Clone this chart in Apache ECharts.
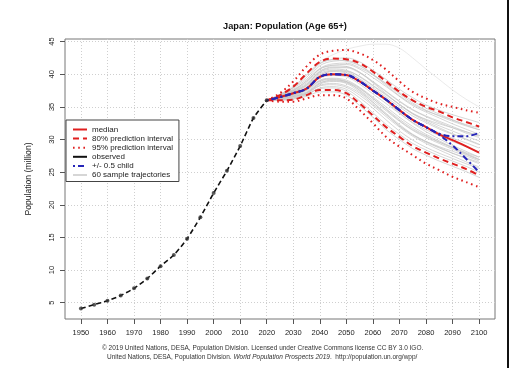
<!DOCTYPE html>
<html>
<head>
<meta charset="utf-8">
<script src="https://cdn.jsdelivr.net/npm/echarts@6/dist/echarts.min.js"></script>
<style>
  html, body { margin: 0; padding: 0; background: #fff; }
  #main { width: 525px; height: 377px; }
</style>
</head>
<body>
<div id="main"></div>
<script>
// observed, 1950-2020
let obsYears = [1950, 1955, 1960, 1965, 1970, 1975, 1980, 1985, 1990, 1995, 2000, 2005, 2010, 2015, 2020];
let obsValues = [4.1, 4.7, 5.3, 6.1, 7.2, 8.7, 10.6, 12.3, 14.8, 18.1, 21.8, 25.2, 29.0, 33.3, 36.0];

// projections, 2020-2100
let projYears = [2020, 2025, 2030, 2035, 2040, 2045, 2050, 2055, 2060, 2065, 2070, 2075, 2080, 2085, 2090, 2095, 2100];
let median = [36.0, 36.5, 37.1, 37.8, 39.6, 40.0, 39.9, 38.9, 37.5, 36.1, 34.5, 33.0, 31.9, 30.8, 29.9, 29.0, 28.0];
let hi80 = [36.0, 36.8, 38.1, 40.1, 41.9, 42.4, 42.3, 41.7, 40.4, 38.9, 37.3, 36.0, 35.0, 34.3, 33.4, 32.7, 32.0];
let lo80 = [36.0, 36.0, 36.1, 36.8, 37.6, 37.6, 37.1, 35.5, 33.7, 31.9, 30.4, 29.0, 28.0, 27.1, 26.3, 25.5, 24.5];
let hi95 = [36.0, 37.1, 38.9, 41.2, 43.0, 43.6, 43.7, 43.2, 42.2, 40.7, 38.9, 37.3, 36.3, 35.5, 35.0, 34.5, 34.1];
let lo95 = [36.0, 35.8, 35.8, 36.3, 36.8, 36.8, 36.3, 34.5, 32.5, 30.4, 28.9, 27.6, 26.3, 25.3, 24.3, 23.5, 22.7];
let childHi = [36.0, 36.5, 37.1, 37.8, 39.6, 40.0, 39.9, 38.9, 37.5, 36.1, 34.5, 33.0, 31.9, 30.9, 30.5, 30.5, 31.0];
let childLo = [36.0, 36.5, 37.1, 37.8, 39.6, 40.0, 39.9, 38.9, 37.5, 36.1, 34.5, 33.0, 31.9, 30.7, 29.1, 27.1, 25.0];

// sample trajectories (a readable subset of the grey cloud)
let trajectories = [
  [36.0, 36.6, 37.4, 38.4, 40.4, 41.0, 41.0, 40.2, 38.8, 37.3, 35.8, 34.5, 33.5, 32.6, 31.8, 31.0, 30.3],
  [36.0, 36.3, 36.8, 37.3, 38.7, 39.0, 38.7, 37.6, 36.0, 34.4, 32.8, 31.4, 30.3, 29.4, 28.5, 27.7, 26.9],
  [36.0, 36.8, 37.9, 39.2, 41.3, 42.0, 42.1, 41.4, 40.0, 38.5, 37.0, 35.6, 34.5, 33.6, 32.8, 32.1, 31.5],
  [36.0, 36.4, 36.9, 37.6, 39.1, 39.4, 39.1, 38.0, 36.5, 35.0, 33.4, 32.0, 30.8, 29.8, 28.8, 27.9, 27.0],
  [36.0, 36.5, 37.2, 38.0, 39.9, 40.4, 40.2, 39.3, 37.9, 36.5, 35.0, 33.6, 32.6, 31.6, 30.8, 30.0, 29.2],
  [36.0, 36.2, 36.5, 37.0, 38.2, 38.4, 38.0, 36.8, 35.2, 33.5, 31.9, 30.5, 29.4, 28.4, 27.5, 26.6, 25.8],
  [36.0, 36.7, 37.6, 38.7, 40.8, 41.4, 41.5, 40.8, 39.5, 38.1, 36.6, 35.2, 34.2, 33.3, 32.4, 31.6, 30.8],
  [36.0, 36.5, 37.0, 37.7, 39.4, 39.8, 39.6, 38.5, 37.0, 35.5, 34.0, 32.6, 31.5, 30.6, 29.7, 28.9, 28.1],
  [36.0, 36.3, 36.7, 37.2, 38.5, 38.9, 38.6, 37.3, 35.7, 34.0, 32.3, 30.8, 29.7, 28.8, 27.9, 27.1, 26.3],
  [36.0, 36.6, 37.3, 38.2, 40.1, 40.6, 40.5, 39.6, 38.2, 36.8, 35.4, 34.0, 33.0, 32.1, 31.3, 30.5, 29.8],
  [36.0, 36.9, 38.0, 39.5, 41.6, 42.3, 42.5, 41.9, 40.6, 39.2, 37.7, 36.4, 35.3, 34.5, 33.8, 33.2, 32.6],
  [36.0, 36.4, 36.9, 37.5, 38.9, 39.2, 38.8, 37.8, 36.3, 34.7, 33.1, 31.7, 30.6, 29.6, 28.7, 27.8, 26.9],
  [36.0, 36.5, 37.1, 37.9, 39.7, 40.1, 39.9, 38.9, 37.4, 35.9, 34.3, 32.9, 31.9, 31.0, 30.2, 29.5, 28.7],
  [36.0, 36.2, 36.6, 37.1, 38.3, 38.6, 38.2, 37.1, 35.4, 33.8, 32.1, 30.7, 29.6, 28.7, 27.9, 27.2, 26.5],
  [36.0, 36.9, 38.2, 39.8, 41.9, 43.0, 43.8, 44.3, 44.6, 44.6, 44.0, 42.5, 40.8, 39.2, 37.6, 36.2, 35.0],
  [36.0, 36.6, 37.3, 38.3, 40.3, 40.8, 40.6, 39.7, 38.3, 36.9, 35.3, 33.9, 32.8, 31.8, 30.9, 30.1, 29.3],
  [36.0, 36.1, 36.4, 36.8, 37.9, 38.1, 37.7, 36.4, 34.8, 33.0, 31.3, 29.9, 28.8, 27.9, 27.1, 26.3, 25.6],
  [36.0, 36.7, 37.5, 38.5, 40.5, 41.1, 41.1, 40.3, 38.9, 37.4, 35.9, 34.6, 33.6, 32.8, 32.0, 31.2, 30.5],
  [36.0, 36.4, 37.0, 37.9, 39.8, 40.5, 40.4, 39.2, 37.6, 35.9, 34.1, 32.5, 31.2, 30.1, 29.1, 28.2, 27.3],
  [36.0, 36.7, 37.7, 38.9, 40.9, 41.6, 41.7, 41.0, 39.9, 38.6, 37.2, 35.9, 34.8, 33.9, 33.0, 32.2, 31.5],
  [36.0, 36.3, 36.6, 37.1, 38.6, 39.1, 38.9, 37.9, 36.3, 34.6, 32.9, 31.5, 30.5, 29.6, 28.8, 28.0, 27.3],
  [36.0, 36.1, 36.3, 36.9, 37.8, 37.9, 37.4, 35.9, 34.1, 32.3, 30.8, 29.4, 28.4, 27.5, 26.7, 25.9, 25.0],
  [36.0, 36.8, 38.0, 39.9, 41.7, 42.2, 42.0, 41.3, 39.9, 38.3, 36.7, 35.4, 34.4, 33.7, 33.0, 32.3, 31.8],
  [36.0, 36.0, 36.2, 36.6, 37.3, 37.3, 36.8, 35.2, 33.4, 31.5, 30.0, 28.6, 27.6, 26.7, 25.9, 25.1, 24.2],
  [36.0, 36.6, 37.5, 39.0, 40.8, 41.3, 41.2, 40.3, 38.7, 37.0, 35.4, 34.0, 33.1, 32.4, 31.8, 31.2, 30.6],
  [36.0, 36.4, 36.8, 37.6, 39.0, 39.3, 38.9, 37.5, 35.7, 33.8, 32.1, 30.7, 29.7, 28.9, 28.2, 27.5, 26.7]
];

let xTicks = [1950, 1960, 1970, 1980, 1990, 2000, 2010, 2020, 2030, 2040, 2050, 2060, 2070, 2080, 2090, 2100];
let yTicks = [5, 10, 15, 20, 25, 30, 35, 40, 45];

let font = 'Liberation Sans, Arial, sans-serif';
let red = '#e01f1f';
let blue = '#2626b8';

function pairs(xs, ys) {
  return xs.map((x, i) => [x, ys[i]]);
}

let chart = echarts.init(document.getElementById('main'), null, { renderer: 'canvas' });

let series = [];

// grey cloud
trajectories.forEach((t, k) => {
  series.push({
    name: '60 sample trajectories',
    type: 'line',
    data: pairs(projYears, t),
    symbol: 'none',
    smooth: 0.35,
    silent: true,
    lineStyle: { color: '#c4c4c4', width: 1, opacity: k === 14 ? 0.35 : 0.7 },
    itemStyle: { color: '#c4c4c4' },
    z: 1
  });
});

function band(name, ys, dash) {
  return {
    name: name,
    type: 'line',
    data: pairs(projYears, ys),
    symbol: 'none',
    smooth: 0.35,
    lineStyle: { color: red, width: 2, type: dash },
    itemStyle: { color: red },
    z: 3
  };
}
series.push(band('95% prediction interval', hi95, [1.6, 3.6]));
series.push(band('95% prediction interval', lo95, [1.6, 3.6]));
series.push(band('80% prediction interval', hi80, [6, 4]));
series.push(band('80% prediction interval', lo80, [6, 4]));

series.push({
  name: 'median',
  type: 'line',
  data: pairs(projYears, median),
  symbol: 'none',
  smooth: 0.35,
  lineStyle: { color: red, width: 2 },
  itemStyle: { color: red },
  z: 4
});

[childHi, childLo].forEach(c => {
  series.push({
    name: '+/- 0.5 child',
    type: 'line',
    data: pairs(projYears, c),
    symbol: 'none',
    smooth: 0.35,
    lineStyle: { color: blue, width: 2, type: [2, 3, 6, 3] },
    itemStyle: { color: blue },
    z: 5
  });
});

series.push({
  name: 'observed',
  type: 'line',
  data: pairs(obsYears, obsValues),
  symbol: 'none',
  smooth: 0.2,
  lineStyle: { color: '#111', width: 1.6, type: [5, 3] },
  itemStyle: { color: '#111' },
  z: 6
});
series.push({
  name: 'observed points',
  type: 'scatter',
  data: pairs(obsYears, obsValues),
  symbol: 'circle',
  symbolSize: 4,
  itemStyle: { color: '#333' },
  z: 7
});

let option = {
  animation: false,
  backgroundColor: '#fff',
  title: {
    text: 'Japan: Population (Age 65+)',
    left: 280,
    top: 17,
    textAlign: 'center',
    textStyle: { fontFamily: font, fontSize: 9.2, fontWeight: 'bold', color: '#111' }
  },
  grid: {
    left: 65, right: 30, top: 39, bottom: 58,
    show: true,
    borderColor: '#777',
    borderWidth: 1
  },
  legend: {
    orient: 'vertical',
    left: 66,
    top: 120,
    padding: [5, 6, 2, 6],
    itemWidth: 14,
    itemHeight: 7,
    itemGap: 0.1,
    backgroundColor: '#fff',
    borderColor: '#444',
    borderWidth: 1,
    borderRadius: 0,
    itemStyle: { opacity: 0 },
    textStyle: { fontFamily: font, fontSize: 8, color: '#222', lineHeight: 9 },
    data: [
      { name: 'median' },
      { name: '80% prediction interval' },
      { name: '95% prediction interval' },
      { name: 'observed', lineStyle: { type: 'solid', width: 2 } },
      { name: '+/- 0.5 child' },
      { name: '60 sample trajectories' }
    ]
  },
  xAxis: {
    type: 'value',
    min: 1944,
    max: 2106,
    axisLine: { show: false },
    axisTick: { show: true, length: 5, customValues: xTicks, lineStyle: { color: '#555' } },
    axisLabel: {
      customValues: xTicks, margin: 10, fontFamily: font, fontSize: 7.5, color: '#222',
      formatter: v => String(v)
    },
    splitLine: { show: true, lineStyle: { color: '#cfcfcf', type: [1, 2], width: 1 } }
  },
  yAxis: {
    type: 'value',
    min: 2.5,
    max: 45.4,
    name: 'Population (million)',
    nameLocation: 'middle',
    nameGap: 32,
    nameTextStyle: { fontFamily: font, fontSize: 8.6, color: '#222' },
    axisLine: { show: false },
    axisTick: { show: true, length: 5, customValues: yTicks, lineStyle: { color: '#555' } },
    axisLabel: {
      customValues: yTicks, rotate: 90, margin: 9, fontFamily: font, fontSize: 7.5, color: '#222',
      formatter: v => String(v)
    },
    splitLine: { show: true, lineStyle: { color: '#cfcfcf', type: [1, 2], width: 1 } }
  },
  graphic: [
    {
      type: 'text',
      left: 102,
      top: 345,
      style: {
        text: '\u00a9 2019 United Nations, DESA, Population Division. Licensed under Creative Commons license CC BY 3.0 IGO.',
        font: '6.5px ' + font,
        fill: '#333'
      }
    },
    {
      type: 'text',
      left: 107,
      top: 354,
      style: {
        text: '{n|United Nations, DESA, Population Division. }{i|World Population Prospects 2019}{n|.  http://population.un.org/wpp/}',
        rich: {
          n: { fontFamily: font, fontSize: 6.5, fill: '#333' },
          i: { fontFamily: font, fontSize: 6.5, fontStyle: 'italic', fill: '#333' }
        }
      }
    },
    {
      type: 'rect',
      shape: { x: 507, y: 0, width: 2, height: 368 },
      style: { fill: '#111' }
    }
  ],
  series: series
};

chart.setOption(option);
</script>
</body>
</html>
